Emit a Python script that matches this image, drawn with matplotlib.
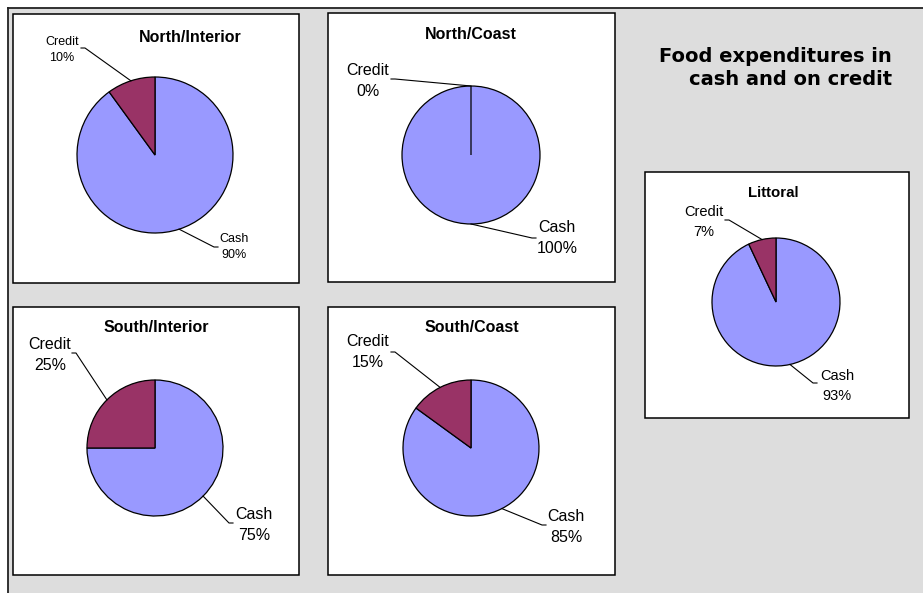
import numpy as np
import matplotlib
matplotlib.use('Agg')
import matplotlib.pyplot as plt
from matplotlib.patches import Rectangle

plt.rcParams['font.family'] = ['Liberation Sans', 'DejaVu Sans']

# Share of food expenditures (%) paid in cash and on credit, by region
regions = ['North/Interior', 'North/Coast', 'Littoral', 'South/Interior', 'South/Coast']
cash = [90, 100, 93, 75, 85]
credit = [10, 0, 7, 25, 15]
slice_names = ['Cash', 'Credit']
slice_colors = ['#9999FF', '#993366']

# Page layout in pixels, measured from the top-left corner
W, H = 923, 593
boxes = [(13, 14, 299, 283), (328, 13, 615, 282), (645, 172, 909, 418),
         (13, 307, 299, 575), (328, 307, 615, 575)]
centers = [(155, 155), (471, 155), (776, 302), (155, 448), (471, 448)]
radii = [78, 69, 64, 68, 68]
title_pos = [(190, 42), (471, 39), (773, 197), (156, 332), (472, 332)]
title_size = [11.5, 11.5, 10.8, 11.5, 11.5]
label_size = [9, 11.5, 10.5, 11.5, 11.5]
label_spacing = [1.4, 1.5, 1.57, 1.5, 1.5]
# label text anchor (centre x, baseline of the percentage line) and
# the point where its leader line ends
label_pos = [
    {'Cash': (234, 258), 'Credit': (62, 60.7)},
    {'Cash': (557, 253), 'Credit': (368, 95.7)},
    {'Cash': (837, 400), 'Credit': (704, 236)},
    {'Cash': (254, 540), 'Credit': (50, 370)},
    {'Cash': (566, 542), 'Credit': (368, 367)},
]
leader_end = [
    {'Cash': (218, 247), 'Credit': (81, 48)},
    {'Cash': (536, 238), 'Credit': (391, 79)},
    {'Cash': (817, 383), 'Credit': (725, 220)},
    {'Cash': (233, 523), 'Credit': (72, 353)},
    {'Cash': (546, 525), 'Credit': (391, 352)},
]


def fy(y):
    # flip a top-down pixel row into the y-up data space of the axes
    return H - y


fig = plt.figure(figsize=(W / 100, H / 100), dpi=100)
ax = fig.add_axes([0, 0, 1, 1])

# grey chart area with its frame on the top and left
ax.add_patch(Rectangle((8, 0), W - 8, H - 8, facecolor='#DDDDDD',
                       edgecolor='none', zorder=0))
ax.plot([8, 8], [0, fy(8)], color='#222222', lw=1.3, zorder=0.5)
ax.plot([8, W], [fy(8), fy(8)], color='#222222', lw=1.3, zorder=0.5)

for i, region in enumerate(regions):
    x0, y0, x1, y1 = boxes[i]
    ax.add_patch(Rectangle((x0, fy(y1)), x1 - x0, y1 - y0, facecolor='white',
                           edgecolor='black', lw=1.1, zorder=0.5))

    cx, cy = centers[i][0], fy(centers[i][1])
    r = radii[i]
    values = [cash[i], credit[i]]
    wedges, _ = ax.pie(values, colors=slice_colors, startangle=90,
                       counterclock=False, center=(cx, cy), radius=r,
                       wedgeprops=dict(edgecolor='black', linewidth=0.9),
                       frame=False)

    for w, name, val in zip(wedges, slice_names, values):
        mid = np.deg2rad((w.theta1 + w.theta2) / 2)
        ex, ey = cx + r * np.cos(mid), cy + r * np.sin(mid)
        lx, ly = leader_end[i][name]
        knee = lx + 4 if lx < ex else lx - 4
        ax.plot([lx, knee, ex], [fy(ly), fy(ly), ey], color='black',
                lw=0.8, zorder=3)
        tx, ty = label_pos[i][name]
        ax.text(tx, fy(ty), f'{name}\n{val}%', ha='center', va='baseline',
                ma='center', fontsize=label_size[i],
                linespacing=label_spacing[i])

    tx, ty = title_pos[i]
    ax.text(tx, fy(ty), region, ha='center', va='baseline',
            fontsize=title_size[i], fontweight='bold')

ax.text(892, fy(85), 'Food expenditures in\ncash and on credit',
        ha='right', va='baseline', ma='right', family='DejaVu Sans',
        fontweight='bold', fontsize=14, linespacing=1.28)

ax.set_xlim(0, W)
ax.set_ylim(0, H)
ax.set_aspect('auto')
ax.axis('off')

fig.savefig('out.png', dpi=100, facecolor='white')
